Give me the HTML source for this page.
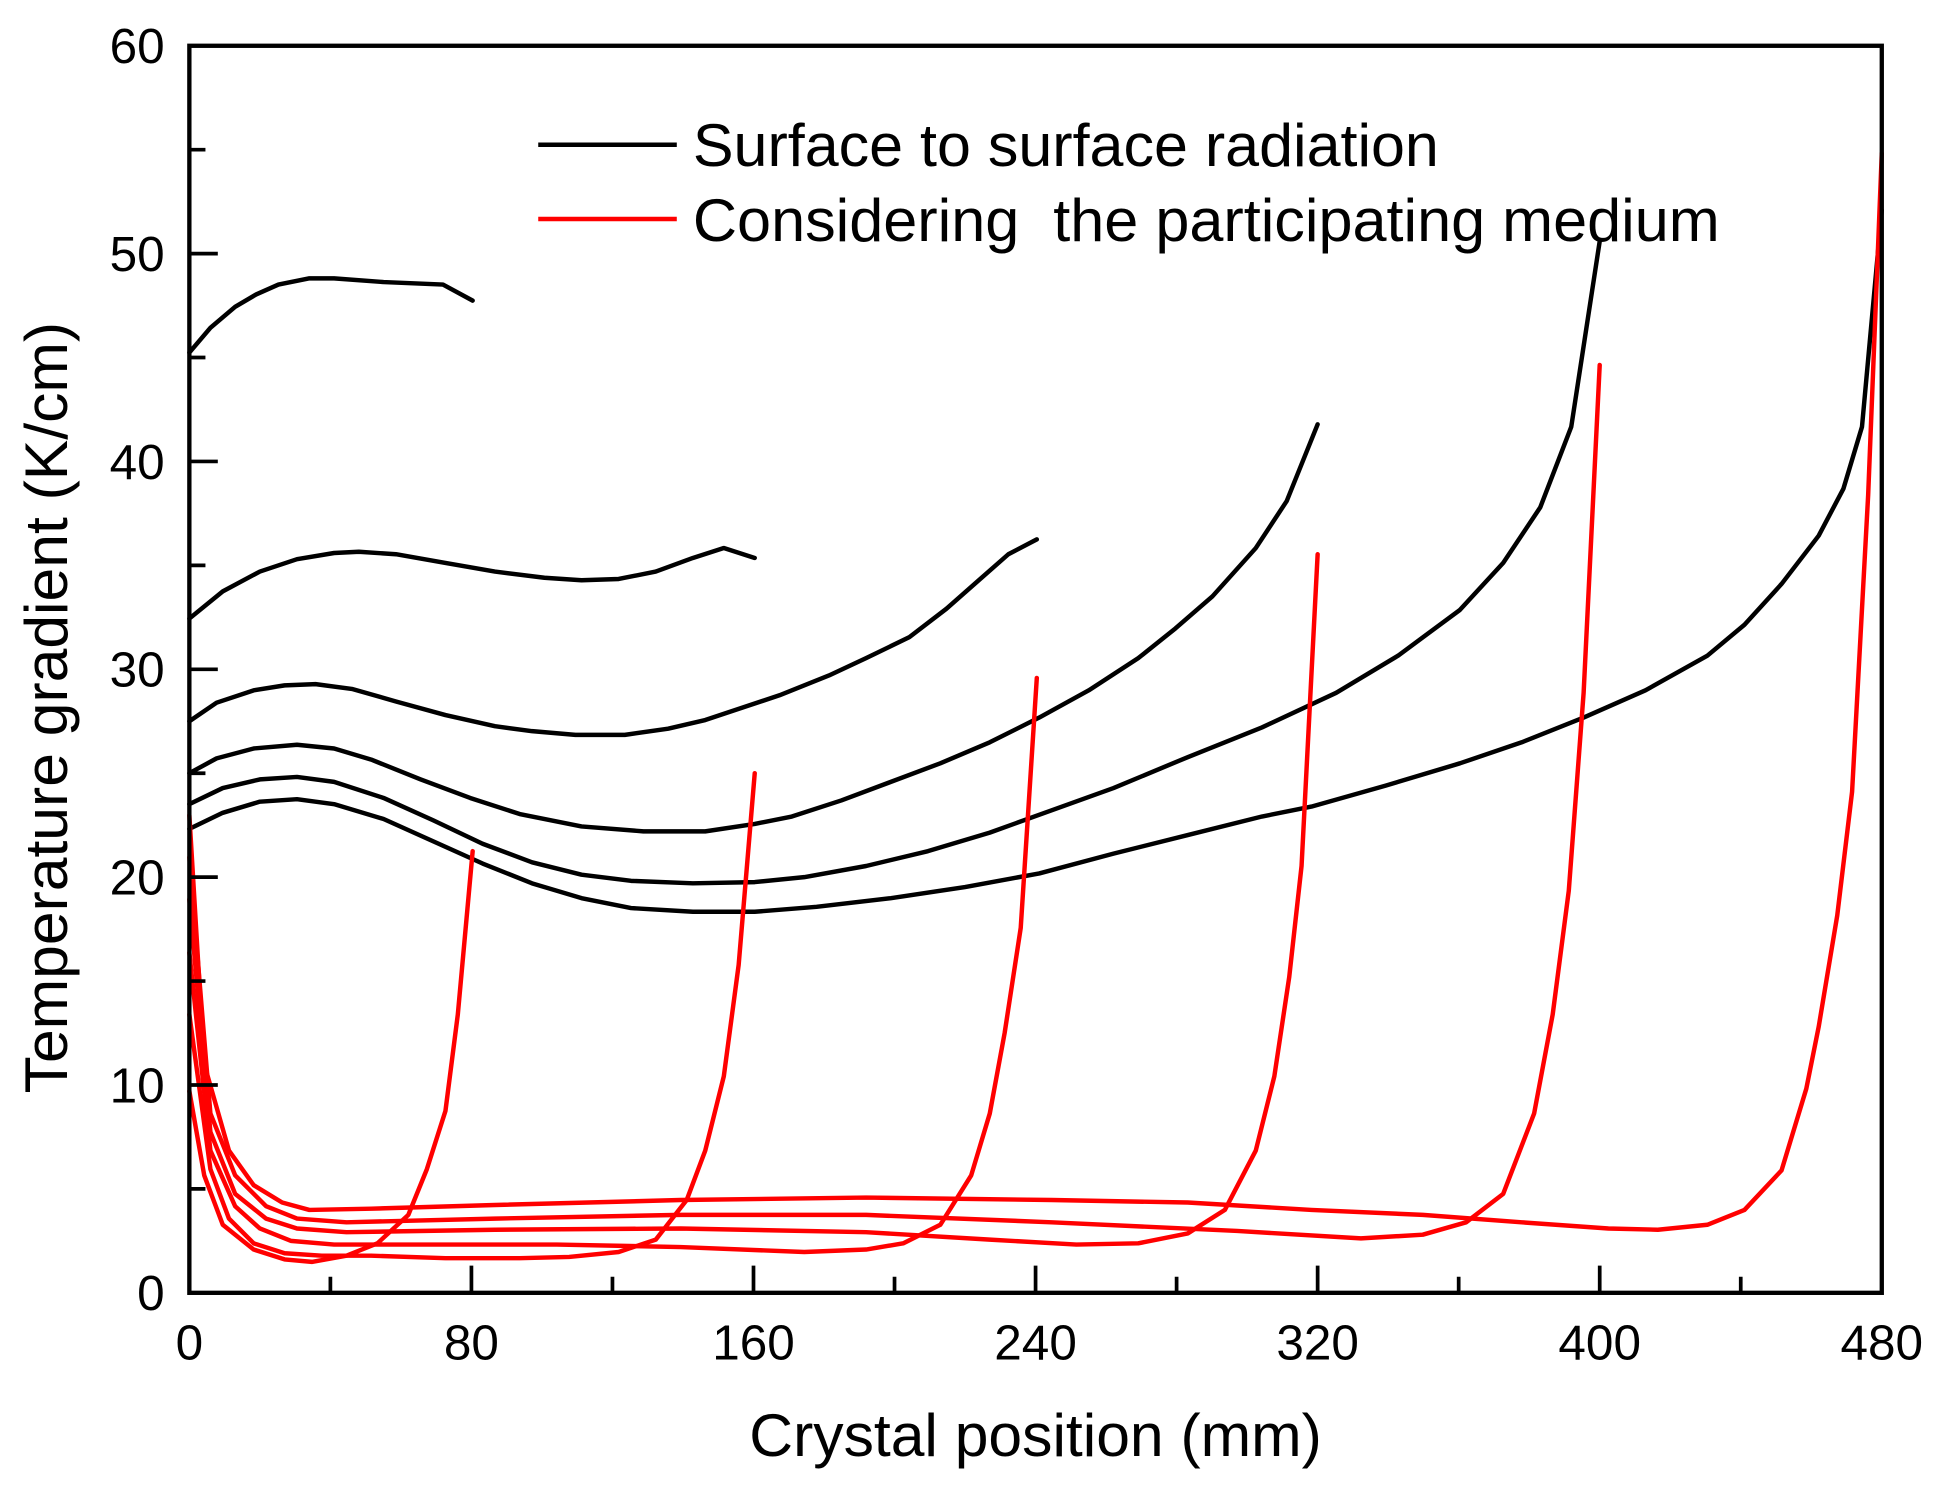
<!DOCTYPE html>
<html><head><meta charset="utf-8"><style>html,body{margin:0;padding:0;background:#fff;}svg{display:block}</style></head>
<body>
<svg width="1940" height="1492" viewBox="0 0 1568 1206" xmlns="http://www.w3.org/2000/svg" font-family="'Liberation Sans', sans-serif">
<rect width="1568" height="1206" fill="#fff"/>
<g fill="none" stroke="#000" stroke-width="3.6" stroke-linejoin="round" stroke-linecap="round">
<polyline points="153,285 170,265 190,248 207,238 225,230 250,225 270,225 310,228 358,230 382,243"/>
<polyline points="153,500 180,478 210,462 240,452 270,447 290,446 320,448 360,455 400,462 440,467 470,469 500,468 530,462 560,451 585,443 610,451"/>
<polyline points="153,583 175,568 205,558 230,554 255,553 285,557 320,567 360,578 400,587 430,591 465,594 505,594 540,589 570,582 600,572 630,562 670,546 700,532 735,515 765,492 790,470 815,448 838,436"/>
<polyline points="153,625 175,613 205,605 240,602 270,605 300,614 340,630 380,645 420,658 470,668 520,672 570,672 610,666 640,660 680,647 720,632 760,617 800,600 840,580 880,558 920,532 950,508 980,482 1015,443 1040,405 1065,343"/>
<polyline points="153,650 180,637 210,630 240,628 270,632 310,645 350,663 390,682 430,697 470,707 510,712 560,714 610,713 650,709 700,700 750,688 800,673 850,655 900,637 960,612 1020,588 1080,560 1130,530 1180,493 1215,455 1245,410 1270,345 1293,195"/>
<polyline points="153,670 180,657 210,648 240,646 270,650 310,662 350,680 390,698 430,714 470,726 510,734 560,737 610,737 660,733 720,726 780,717 840,706 900,690 960,675 1020,660 1060,652 1120,635 1180,617 1230,600 1280,580 1330,558 1380,530 1410,505 1440,472 1470,433 1490,395 1505,345 1521,170"/>
</g>
<g fill="none" stroke="#f00" stroke-width="3.6" stroke-linejoin="round" stroke-linecap="round">
<polyline points="153,882 165,950 180,990 205,1010 230,1018 252,1020 280,1015 305,1005 330,982 345,945 360,898 370,820 382,688"/>
<polyline points="153,820 170,945 185,985 205,1005 230,1013 260,1015 300,1015 360,1017 420,1017 460,1016 500,1012 530,1002 555,970 570,930 585,870 597,780 610,625"/>
<polyline points="153,770 170,930 190,975 210,993 235,1003 270,1006 350,1006 450,1006 550,1008 650,1012 700,1010 730,1005 760,990 785,950 800,900 812,835 825,750 838,548"/>
<polyline points="153,727 170,915 190,965 215,985 240,993 280,996 400,994 550,993 700,996 800,1002 870,1006 920,1005 960,997 990,978 1015,930 1030,870 1042,790 1052,700 1065,448"/>
<polyline points="153,693 170,900 190,950 215,975 240,985 280,988 400,985 550,982 700,982 850,988 1000,995 1100,1001 1150,998 1185,988 1215,965 1240,900 1255,820 1268,720 1280,560 1293,295"/>
<polyline points="153,659 165,860 185,930 205,958 228,972 250,978 300,977 400,974 550,970 700,968 850,970 960,972 1060,978 1150,982 1230,988 1300,993 1340,994 1380,990 1410,978 1440,946 1460,880 1470,830 1485,740 1497,640 1510,400 1521,124"/>
</g>
<rect x="153" y="37" width="1368" height="1008" fill="none" stroke="#000" stroke-width="3.5"/>
<g stroke="#000" stroke-width="3">
<path d="M381,1045v-22M609,1045v-22M837,1045v-22M1065,1045v-22M1293,1045v-22M267,1045v-13M495,1045v-13M723,1045v-13M951,1045v-13M1179,1045v-13M1407,1045v-13"/>
<path d="M153,877h23M153,709h23M153,541h23M153,373h23M153,205h23M153,961h13M153,793h13M153,625h13M153,457h13M153,289h13M153,121h13"/>
</g>
<g font-size="40" fill="#000" text-anchor="middle">
<text x="153" y="1099">0</text><text x="381" y="1099">80</text><text x="609" y="1099">160</text><text x="837" y="1099">240</text><text x="1065" y="1099">320</text><text x="1293" y="1099">400</text><text x="1521" y="1099">480</text>
</g>
<g font-size="40" fill="#000" text-anchor="end">
<text x="133" y="1059">0</text><text x="133" y="891">10</text><text x="133" y="723">20</text><text x="133" y="555">30</text><text x="133" y="387">40</text><text x="133" y="219">50</text><text x="133" y="51">60</text>
</g>
<text x="837" y="1177" font-size="49" text-anchor="middle">Crystal position (mm)</text>
<text transform="translate(54,572) rotate(-90)" font-size="49" text-anchor="middle">Temperature gradient (K/cm)</text>
<line x1="435" y1="117" x2="547" y2="117" stroke="#000" stroke-width="3.6"/>
<line x1="435" y1="177" x2="547" y2="177" stroke="#f00" stroke-width="3.6"/>
<text x="560" y="134" font-size="49" textLength="603" lengthAdjust="spacingAndGlyphs">Surface to surface radiation</text>
<text x="560" y="195" font-size="49" xml:space="preserve" textLength="830" lengthAdjust="spacingAndGlyphs">Considering  the participating medium</text>
</svg>
</body></html>
